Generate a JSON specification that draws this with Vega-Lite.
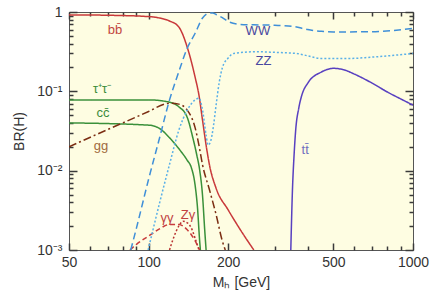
{
  "$schema": "https://vega.github.io/schema/vega-lite/v6.json",
  "width": 344,
  "height": 238,
  "autosize": "none",
  "padding": {"left": 69, "top": 12, "right": 22, "bottom": 42},
  "background": "white",
  "config": {
    "view": {"fill": "#fefde2", "stroke": "#555555", "strokeWidth": 1},
    "font": "Liberation Sans",
    "axis": {
      "grid": false,
      "domain": false,
      "ticks": true,
      "tickColor": "#3a3a3a",
      "tickWidth": 1.5,
      "labelColor": "#333333",
      "labelFontSize": 14,
      "labelFlush": false,
      "labelOverlap": false,
      "titleColor": "#333333",
      "titleFontSize": 14,
      "titleFontWeight": "normal"
    }
  },
  "datasets": {
    "lines": [
      {"ch": "bb", "M": 50, "BR": 0.92}, {"ch": "bb", "M": 70, "BR": 0.91}, {"ch": "bb", "M": 100, "BR": 0.875},
      {"ch": "bb", "M": 110, "BR": 0.84}, {"ch": "bb", "M": 120, "BR": 0.77}, {"ch": "bb", "M": 130, "BR": 0.65},
      {"ch": "bb", "M": 140, "BR": 0.36}, {"ch": "bb", "M": 150, "BR": 0.15}, {"ch": "bb", "M": 155, "BR": 0.09},
      {"ch": "bb", "M": 160, "BR": 0.043}, {"ch": "bb", "M": 165, "BR": 0.021}, {"ch": "bb", "M": 170, "BR": 0.0117},
      {"ch": "bb", "M": 180, "BR": 0.006}, {"ch": "bb", "M": 200, "BR": 0.0032}, {"ch": "bb", "M": 220, "BR": 0.0019},
      {"ch": "bb", "M": 250, "BR": 0.001},

      {"ch": "tautau", "M": 50, "BR": 0.078}, {"ch": "tautau", "M": 100, "BR": 0.078}, {"ch": "tautau", "M": 120, "BR": 0.073},
      {"ch": "tautau", "M": 130, "BR": 0.064}, {"ch": "tautau", "M": 140, "BR": 0.047}, {"ch": "tautau", "M": 147, "BR": 0.026},
      {"ch": "tautau", "M": 152, "BR": 0.016}, {"ch": "tautau", "M": 156, "BR": 0.0102}, {"ch": "tautau", "M": 160, "BR": 0.0048},
      {"ch": "tautau", "M": 163, "BR": 0.0018}, {"ch": "tautau", "M": 165, "BR": 0.001},

      {"ch": "cc", "M": 50, "BR": 0.040}, {"ch": "cc", "M": 100, "BR": 0.0375}, {"ch": "cc", "M": 110, "BR": 0.034},
      {"ch": "cc", "M": 120, "BR": 0.026}, {"ch": "cc", "M": 130, "BR": 0.019}, {"ch": "cc", "M": 140, "BR": 0.0135},
      {"ch": "cc", "M": 145, "BR": 0.011}, {"ch": "cc", "M": 150, "BR": 0.0065}, {"ch": "cc", "M": 153, "BR": 0.0035},
      {"ch": "cc", "M": 156, "BR": 0.0013}, {"ch": "cc", "M": 157, "BR": 0.001},

      {"ch": "gg", "M": 50, "BR": 0.020}, {"ch": "gg", "M": 70, "BR": 0.033}, {"ch": "gg", "M": 100, "BR": 0.0557},
      {"ch": "gg", "M": 115, "BR": 0.069}, {"ch": "gg", "M": 120, "BR": 0.071}, {"ch": "gg", "M": 130, "BR": 0.069},
      {"ch": "gg", "M": 140, "BR": 0.058}, {"ch": "gg", "M": 150, "BR": 0.0346}, {"ch": "gg", "M": 155, "BR": 0.021},
      {"ch": "gg", "M": 160, "BR": 0.0118}, {"ch": "gg", "M": 170, "BR": 0.0057}, {"ch": "gg", "M": 180, "BR": 0.0028},
      {"ch": "gg", "M": 190, "BR": 0.0013}, {"ch": "gg", "M": 195, "BR": 0.001},

      {"ch": "gamgam", "M": 85, "BR": 0.001}, {"ch": "gamgam", "M": 90, "BR": 0.00118}, {"ch": "gamgam", "M": 100, "BR": 0.0015},
      {"ch": "gamgam", "M": 110, "BR": 0.00185}, {"ch": "gamgam", "M": 120, "BR": 0.0021}, {"ch": "gamgam", "M": 130, "BR": 0.0021},
      {"ch": "gamgam", "M": 140, "BR": 0.0018}, {"ch": "gamgam", "M": 150, "BR": 0.0013}, {"ch": "gamgam", "M": 156, "BR": 0.001},

      {"ch": "Zgam", "M": 120, "BR": 0.001}, {"ch": "Zgam", "M": 125, "BR": 0.0015}, {"ch": "Zgam", "M": 130, "BR": 0.002},
      {"ch": "Zgam", "M": 135, "BR": 0.0023}, {"ch": "Zgam", "M": 140, "BR": 0.0022}, {"ch": "Zgam", "M": 145, "BR": 0.0019},
      {"ch": "Zgam", "M": 150, "BR": 0.0014}, {"ch": "Zgam", "M": 155, "BR": 0.001},

      {"ch": "WW", "M": 85.6, "BR": 0.001}, {"ch": "WW", "M": 90, "BR": 0.0019}, {"ch": "WW", "M": 100, "BR": 0.0078},
      {"ch": "WW", "M": 110, "BR": 0.0258}, {"ch": "WW", "M": 120, "BR": 0.078}, {"ch": "WW", "M": 130, "BR": 0.175},
      {"ch": "WW", "M": 140, "BR": 0.35}, {"ch": "WW", "M": 150, "BR": 0.54}, {"ch": "WW", "M": 160, "BR": 0.84},
      {"ch": "WW", "M": 170, "BR": 0.97}, {"ch": "WW", "M": 175, "BR": 0.97}, {"ch": "WW", "M": 180, "BR": 0.93},
      {"ch": "WW", "M": 190, "BR": 0.85}, {"ch": "WW", "M": 200, "BR": 0.76}, {"ch": "WW", "M": 220, "BR": 0.70},
      {"ch": "WW", "M": 250, "BR": 0.69}, {"ch": "WW", "M": 300, "BR": 0.68}, {"ch": "WW", "M": 350, "BR": 0.66},
      {"ch": "WW", "M": 400, "BR": 0.60}, {"ch": "WW", "M": 450, "BR": 0.57}, {"ch": "WW", "M": 500, "BR": 0.56},
      {"ch": "WW", "M": 700, "BR": 0.565}, {"ch": "WW", "M": 1000, "BR": 0.62},

      {"ch": "ZZ", "M": 99.6, "BR": 0.001}, {"ch": "ZZ", "M": 110, "BR": 0.0039}, {"ch": "ZZ", "M": 120, "BR": 0.012},
      {"ch": "ZZ", "M": 130, "BR": 0.032}, {"ch": "ZZ", "M": 140, "BR": 0.058}, {"ch": "ZZ", "M": 150, "BR": 0.078},
      {"ch": "ZZ", "M": 155, "BR": 0.082}, {"ch": "ZZ", "M": 160, "BR": 0.058}, {"ch": "ZZ", "M": 165, "BR": 0.028},
      {"ch": "ZZ", "M": 168, "BR": 0.021}, {"ch": "ZZ", "M": 172, "BR": 0.024}, {"ch": "ZZ", "M": 176, "BR": 0.037},
      {"ch": "ZZ", "M": 180, "BR": 0.067}, {"ch": "ZZ", "M": 185, "BR": 0.13}, {"ch": "ZZ", "M": 190, "BR": 0.197},
      {"ch": "ZZ", "M": 200, "BR": 0.263}, {"ch": "ZZ", "M": 210, "BR": 0.30}, {"ch": "ZZ", "M": 256, "BR": 0.316},
      {"ch": "ZZ", "M": 300, "BR": 0.31}, {"ch": "ZZ", "M": 363, "BR": 0.30}, {"ch": "ZZ", "M": 400, "BR": 0.28},
      {"ch": "ZZ", "M": 445, "BR": 0.26}, {"ch": "ZZ", "M": 578, "BR": 0.26}, {"ch": "ZZ", "M": 700, "BR": 0.27},
      {"ch": "ZZ", "M": 1000, "BR": 0.30},

      {"ch": "tt", "M": 345, "BR": 0.001}, {"ch": "tt", "M": 350, "BR": 0.0057}, {"ch": "tt", "M": 355, "BR": 0.0157},
      {"ch": "tt", "M": 360, "BR": 0.0324}, {"ch": "tt", "M": 370, "BR": 0.062}, {"ch": "tt", "M": 380, "BR": 0.09},
      {"ch": "tt", "M": 400, "BR": 0.127}, {"ch": "tt", "M": 450, "BR": 0.175}, {"ch": "tt", "M": 500, "BR": 0.195},
      {"ch": "tt", "M": 550, "BR": 0.186}, {"ch": "tt", "M": 600, "BR": 0.165}, {"ch": "tt", "M": 700, "BR": 0.127},
      {"ch": "tt", "M": 800, "BR": 0.098}, {"ch": "tt", "M": 900, "BR": 0.08}, {"ch": "tt", "M": 1000, "BR": 0.067}
    ],
    "labels": [
      {"lab": "bb̄", "M": 74.7, "BR": 0.59},
      {"lab": "τ⁺τ⁻", "M": 66.7, "BR": 0.107},
      {"lab": "cc̄", "M": 67.2, "BR": 0.053},
      {"lab": "gg", "M": 66, "BR": 0.0205},
      {"lab": "γγ", "M": 117.5, "BR": 0.0025},
      {"lab": "Zγ", "M": 141, "BR": 0.0028},
      {"lab": "WW", "M": 259, "BR": 0.58},
      {"lab": "ZZ", "M": 272, "BR": 0.243},
      {"lab": "tt̄", "M": 391, "BR": 0.0182}
    ]
  },
  "layer": [
    {
      "data": {"name": "lines"},
      "mark": {"type": "line", "interpolate": "monotone", "strokeWidth": 1.5, "clip": true},
      "encoding": {
        "x": {
          "field": "M", "type": "quantitative",
          "scale": {"type": "log", "domain": [50, 1000], "nice": false},
          "axis": {
            "orient": "bottom",
            "title": "Mₕ [GeV]",
            "titlePadding": 6,
            "values": [50, 100, 200, 500, 1000],
            "format": "d",
            "tickSize": -7,
            "labelPadding": 12
          }
        },
        "y": {
          "field": "BR", "type": "quantitative",
          "scale": {"type": "log", "domain": [0.001, 1], "nice": false},
          "axis": {
            "orient": "left",
            "title": "BR(H)",
            "titlePadding": 10,
            "values": [0.001, 0.01, 0.1, 1],
            "labelExpr": "datum.value == 1 ? '1' : datum.value == 0.1 ? '10⁻¹' : datum.value == 0.01 ? '10⁻²' : '10⁻³'",
            "tickSize": -8,
            "labelPadding": 15
          }
        },
        "color": {
          "field": "ch", "type": "nominal", "legend": null,
          "scale": {
            "domain": ["bb", "tautau", "cc", "gg", "gamgam", "Zgam", "WW", "ZZ", "tt"],
            "range": ["#c8383a", "#3a903a", "#3a903a", "#7b2d12", "#c83c3c", "#b83030", "#3f8fd8", "#5ab0e8", "#5840c0"]
          }
        },
        "strokeDash": {
          "field": "ch", "type": "nominal", "legend": null,
          "scale": {
            "domain": ["bb", "tautau", "cc", "gg", "gamgam", "Zgam", "WW", "ZZ", "tt"],
            "range": [[1, 0], [1, 0], [1, 0], [8, 3, 2, 3], [5, 3], [2, 2], [7, 4], [2, 2], [1, 0]]
          }
        }
      }
    },
    {
      "data": {"name": "labels"},
      "mark": {"type": "text", "fontSize": 13, "font": "Liberation Sans"},
      "encoding": {
        "x": {
          "field": "M", "type": "quantitative",
          "scale": {"type": "log", "domain": [50, 1000], "nice": false},
          "axis": {"orient": "top", "title": null, "labels": false, "values": [50, 100, 200, 500, 1000], "tickSize": -7}
        },
        "y": {
          "field": "BR", "type": "quantitative",
          "scale": {"type": "log", "domain": [0.001, 1], "nice": false},
          "axis": {"orient": "right", "title": null, "labels": false, "values": [0.001, 0.01, 0.1, 1], "tickSize": -8}
        },
        "text": {"field": "lab", "type": "nominal"},
        "color": {
          "field": "lab", "type": "nominal", "legend": null,
          "scale": {
            "domain": ["bb̄", "τ⁺τ⁻", "cc̄", "gg", "γγ", "Zγ", "WW", "ZZ", "tt̄"],
            "range": ["#c2453e", "#3c8c3c", "#3c8c3c", "#a06a40", "#c04040", "#c04040", "#4848a0", "#4848a0", "#7070c0"]
          }
        }
      }
    },
    {
      "data": {"name": "labels"},
      "mark": {"type": "point", "opacity": 0},
      "encoding": {
        "x": {
          "field": "M", "type": "quantitative",
          "scale": {"type": "log", "domain": [50, 1000], "nice": false},
          "axis": {"orient": "bottom", "title": null, "labels": false, "values": [60, 70, 80, 90, 300, 400, 600, 700, 800, 900], "tickSize": -4}
        },
        "y": {
          "field": "BR", "type": "quantitative",
          "scale": {"type": "log", "domain": [0.001, 1], "nice": false},
          "axis": {"orient": "left", "title": null, "labels": false, "values": [0.002, 0.003, 0.004, 0.005, 0.006, 0.007, 0.008, 0.009, 0.02, 0.03, 0.04, 0.05, 0.06, 0.07, 0.08, 0.09, 0.2, 0.3, 0.4, 0.5, 0.6, 0.7, 0.8, 0.9], "tickSize": -4}
        }
      }
    },
    {
      "data": {"name": "labels"},
      "mark": {"type": "point", "opacity": 0},
      "encoding": {
        "x": {
          "field": "M", "type": "quantitative",
          "scale": {"type": "log", "domain": [50, 1000], "nice": false},
          "axis": {"orient": "top", "title": null, "labels": false, "values": [60, 70, 80, 90, 300, 400, 600, 700, 800, 900], "tickSize": -4}
        },
        "y": {
          "field": "BR", "type": "quantitative",
          "scale": {"type": "log", "domain": [0.001, 1], "nice": false},
          "axis": {"orient": "right", "title": null, "labels": false, "values": [0.002, 0.003, 0.004, 0.005, 0.006, 0.007, 0.008, 0.009, 0.02, 0.03, 0.04, 0.05, 0.06, 0.07, 0.08, 0.09, 0.2, 0.3, 0.4, 0.5, 0.6, 0.7, 0.8, 0.9], "tickSize": -4}
        }
      }
    }
  ],
  "resolve": {"scale": {"color": "independent"}}
}
